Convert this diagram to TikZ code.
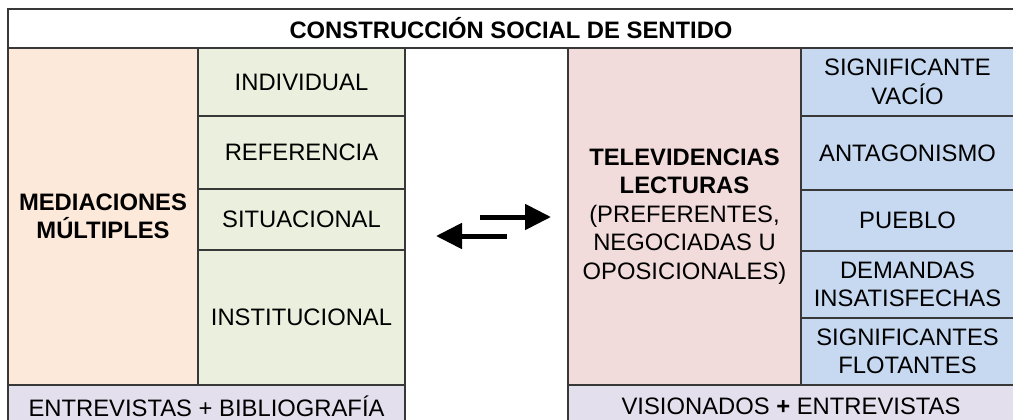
\documentclass[tikz,border=0pt]{standalone}
\usepackage{fontspec}
\setmainfont{Liberation Sans}
\usetikzlibrary{arrows.meta}

\definecolor{lineagris}{HTML}{383838}
\definecolor{naranja}{HTML}{FDE9D9}
\definecolor{verde}{HTML}{EBF0DE}
\definecolor{rosa}{HTML}{F2DCDB}
\definecolor{azul}{HTML}{C6D9F1}
\definecolor{lila}{HTML}{E4DFEC}

\begin{document}
\begin{tikzpicture}[x=1pt, y=-1pt,
  celda/.style={draw=lineagris, line width=2pt, inner sep=0pt, align=center,
    font=\fontsize{23.8}{28.5}\selectfont},
  negrita/.style={font=\fontsize{23.8}{28.5}\selectfont\bfseries},
  flecha/.style={line width=5pt, -{Triangle[length=26pt,width=25pt]}}]

\useasboundingbox (0,0) rectangle (1013,420);

%title
\node[celda, negrita, minimum width=1006pt, minimum height=39pt] (titulo) at (511,28.5) {CONSTRUCCIÓN SOCIAL DE SENTIDO};

%left block
\node[celda, negrita, fill=naranja, minimum width=190pt, minimum height=337pt] (mediaciones) at (103,216.5) {MEDIACIONES\\MÚLTIPLES};

\foreach \n/\ya/\yb/\t in {ind/48/116/INDIVIDUAL, ref/116/189/REFERENCIA,
    sit/189/250/SITUACIONAL, ins/250/385/INSTITUCIONAL}
  \node[celda, fill=verde, minimum width=207pt, minimum height={(\yb-\ya)*1pt}] (\n) at (301.5,{(\ya+\yb)/2}) {\t};

\node[celda, fill=lila, minimum width=397pt, minimum height=43pt] (bibliografia) at (206.5,406.5) {ENTREVISTAS + BIBLIOGRAFÍA};

%right block
\node[celda, fill=rosa, minimum width=233pt, minimum height=337pt] (lecturas) at (684.5,216.5) {\textbf{TELEVIDENCIAS}\\\textbf{LECTURAS}\\(PREFERENTES,\\NEGOCIADAS U\\OPOSICIONALES)};

\foreach \n/\ya/\yb/\t in {vacio/48/116/{SIGNIFICANTE\\VACÍO}, antagonismo/116/190/ANTAGONISMO,
    pueblo/190/251/PUEBLO, demandas/251/318/{DEMANDAS\\INSATISFECHAS},
    flotantes/318/385/{SIGNIFICANTES\\FLOTANTES}}
  \node[celda, fill=azul, minimum width=213pt, minimum height={(\yb-\ya)*1pt}] (\n) at (907.5,{(\ya+\yb)/2}) {\t};

\node[celda, fill=lila, minimum width=446pt, minimum height=43pt] (visionados) at (791,406.5) {VISIONADOS \textbf{+} ENTREVISTAS};

%arrows
\coordinate (ida a) at (480,217);
\coordinate (ida b) at (551,217);
\coordinate (vuelta a) at (507,236);
\coordinate (vuelta b) at (436,236);
\draw[flecha] (ida a) -- (ida b);
\draw[flecha] (vuelta a) -- (vuelta b);

\end{tikzpicture}
\end{document}
